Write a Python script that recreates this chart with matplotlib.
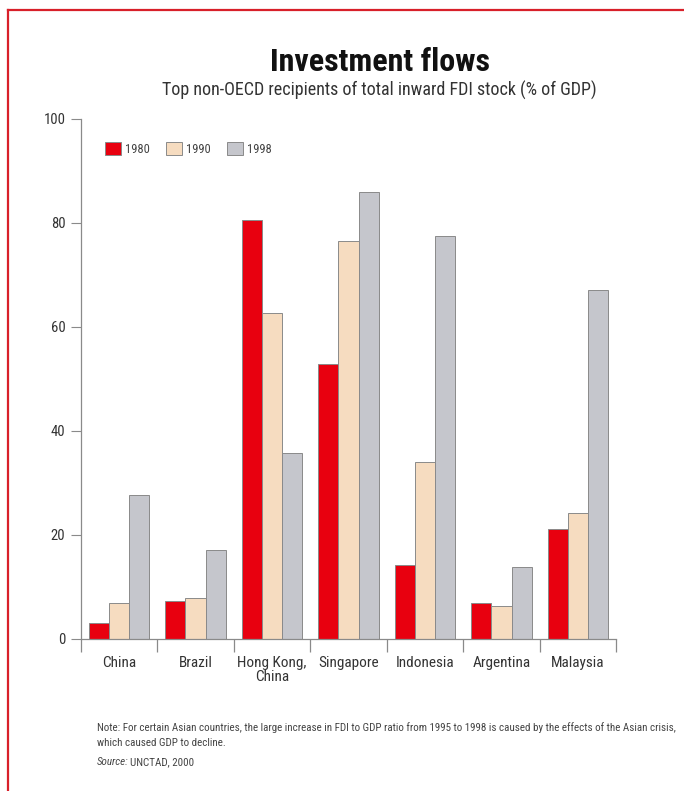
import numpy as np
import matplotlib.pyplot as plt
from matplotlib.lines import Line2D

plt.rcParams['font.family'] = ['Roboto Condensed', 'DejaVu Sans']

countries = ["China", "Brazil", "Hong Kong,\nChina", "Singapore", "Indonesia", "Argentina", "Malaysia"]
years = ["1980", "1990", "1998"]
v1980 = [3.0, 7.3, 80.6, 52.9, 14.2, 6.9, 21.2]
v1990 = [7.0, 7.9, 62.7, 76.5, 34.0, 6.3, 24.2]
v1998 = [27.7, 17.1, 35.8, 85.9, 77.4, 13.8, 67.1]
colors = ["#e8000f", "#f6dcc0", "#c5c6cc"]

fig = plt.figure(figsize=(6.84, 7.91), dpi=100)
ax = fig.add_axes([0.118, 0.1922, 0.783, 0.6574])

x = np.arange(len(countries))
w = 0.262
for i, (vals, c) in enumerate(zip([v1980, v1990, v1998], colors)):
    ax.bar(x + (i - 1) * w, vals, w, color=c, edgecolor="#8a8a8a", lw=0.7,
           label=years[i])

ax.set_xlim(-0.5, 6.5)
ax.set_ylim(0, 100)
for s in ["top", "right"]:
    ax.spines[s].set_visible(False)
for s in ["left", "bottom"]:
    ax.spines[s].set_color("#8a8a8a")
    ax.spines[s].set_linewidth(0.9)

ax.set_yticks(range(0, 101, 20))
ax.tick_params(axis="y", length=7, color="#8a8a8a", labelsize=10.5,
               labelcolor="#333333", pad=4)
ax.set_xticks(x)
ax.set_xticklabels(countries, fontsize=11, color="#333333", linespacing=1.0)
ax.tick_params(axis="x", length=0, pad=12)
ax.set_xticks(np.arange(-0.5, 7, 1), minor=True)
ax.tick_params(axis="x", which="minor", length=9, color="#8a8a8a", width=0.9)

ax.legend(loc="upper left", bbox_to_anchor=(0.025, 0.977), ncol=3, frameon=False,
          fontsize=9, handlelength=1.25, handleheight=1.15, columnspacing=1.3,
          handletextpad=0.35, labelcolor="#444444")

fig.text(0.555, 0.922, "Investment flows", ha="center", va="center",
         fontsize=23, fontweight="bold", color="#111111")
fig.text(0.555, 0.886, "Top non-OECD recipients of total inward FDI stock (% of GDP)",
         ha="center", va="center", fontsize=13, color="#333333")

fig.text(0.142, 0.071, "Note: For certain Asian countries, the large increase in FDI to GDP ratio "
         "from 1995 to 1998 is caused by the effects of the Asian crisis,\nwhich caused GDP to decline.",
         ha="left", va="center", fontsize=7.9, color="#444444", linespacing=1.6)
src = fig.text(0.142, 0.037, "Source:", ha="left", va="center", fontsize=7.9,
               color="#444444", style="italic")
fig.canvas.draw()
bb = src.get_window_extent().transformed(fig.transFigure.inverted())
fig.text(bb.x1 + 0.002, 0.037, "UNCTAD, 2000", ha="left", va="center",
         fontsize=7.9, color="#444444")

# red frame
fig.add_artist(Line2D([0.012, 1.0], [0.987, 0.987], color="#d8202a", lw=1.6,
                      transform=fig.transFigure))
fig.add_artist(Line2D([0.012, 0.012], [0.0, 0.987], color="#d8202a", lw=1.6,
                      transform=fig.transFigure))

fig.savefig("out.png", dpi=100)
